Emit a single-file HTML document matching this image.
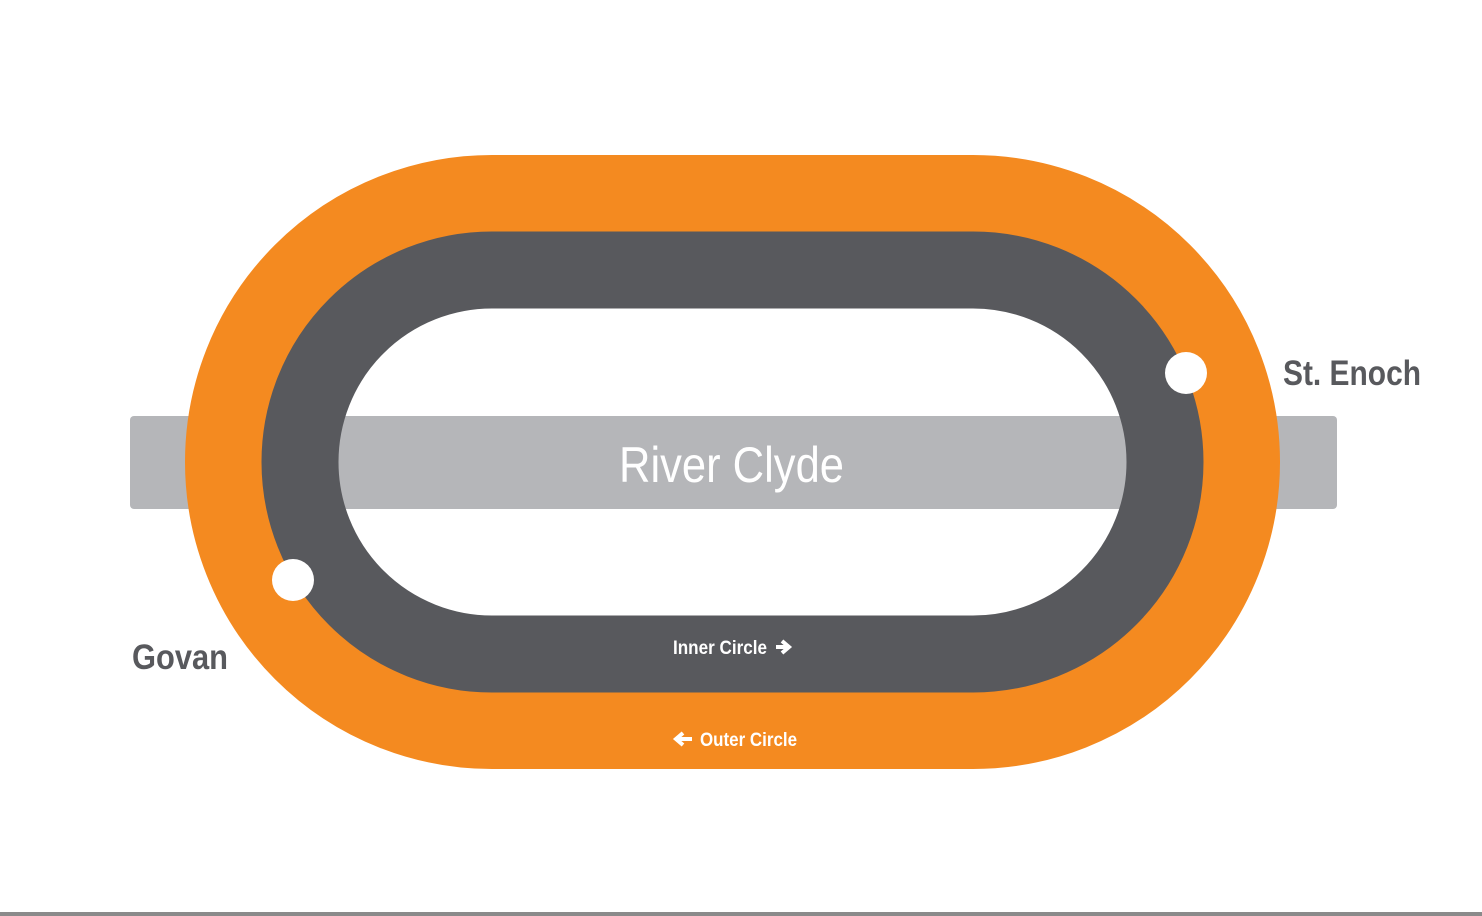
<!DOCTYPE html>
<html><head><meta charset="utf-8"><style>
html,body{margin:0;padding:0;background:#fff;}
svg{display:block;}
text{font-family:"Liberation Sans",sans-serif;}
</style></head><body>
<svg width="1482" height="916" viewBox="0 0 1482 916">
<rect x="0" y="0" width="1482" height="916" fill="#fff"/>
<rect x="130" y="416" width="1207" height="93" rx="4" fill="#b5b6b9"/>
<path d="M492 193.5 H973 A268.5 268.5 0 0 1 973 730.5 H492 A268.5 268.5 0 0 1 492 193.5 Z" fill="none" stroke="#f48a20" stroke-width="77"/>
<path d="M492 270 H973 A192 192 0 0 1 973 654 H492 A192 192 0 0 1 492 270 Z" fill="none" stroke="#58595d" stroke-width="77"/>
<circle cx="1186" cy="373" r="21" fill="#fff"/>
<circle cx="293" cy="580" r="21" fill="#fff"/>
<text x="619" y="482" font-size="50" fill="#fff" textLength="225" lengthAdjust="spacingAndGlyphs">River Clyde</text>
<text x="1283" y="385" font-size="35" font-weight="bold" fill="#58595d" textLength="138" lengthAdjust="spacingAndGlyphs">St. Enoch</text>
<text x="132" y="669" font-size="35" font-weight="bold" fill="#58595d" textLength="96" lengthAdjust="spacingAndGlyphs">Govan</text>
<text x="673" y="654" font-size="19" font-weight="bold" fill="#fff" textLength="94" lengthAdjust="spacingAndGlyphs">Inner Circle</text>
<path d="M776 647 H788 M782 641 L789 647 L782 653" stroke="#fff" stroke-width="4" fill="none"/>
<text x="700" y="746" font-size="19" font-weight="bold" fill="#fff" textLength="97" lengthAdjust="spacingAndGlyphs">Outer Circle</text>
<path d="M692 739 H676 M683 733 L676 739 L683 745" stroke="#fff" stroke-width="4" fill="none"/>
<rect x="0" y="912" width="1482" height="4" fill="#8a8a8a"/>
</svg>
</body></html>
